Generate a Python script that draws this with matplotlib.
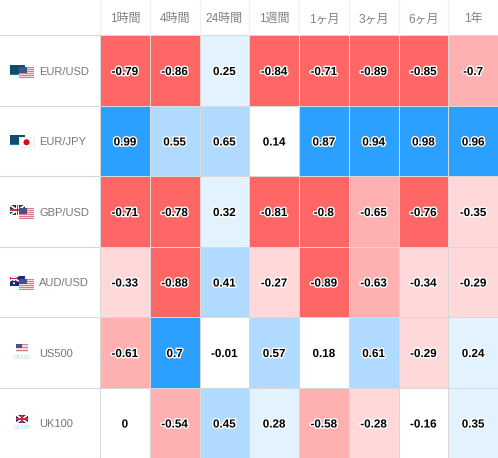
import numpy as np
import matplotlib
matplotlib.use('Agg')
import matplotlib.pyplot as plt
import matplotlib.patheffects as pe
from matplotlib.colors import ListedColormap, BoundaryNorm
from matplotlib.patches import Rectangle, Circle

plt.rcParams['font.family'] = ['Liberation Sans', 'Noto Sans CJK JP', 'DejaVu Sans']

periods = ['1時間', '4時間', '24時間', '1週間', '1ヶ月', '3ヶ月', '6ヶ月', '1年']
symbols = ['EUR/USD', 'EUR/JPY', 'GBP/USD', 'AUD/USD', 'US500', 'UK100']

eur_usd = [-0.79, -0.86, 0.25, -0.84, -0.71, -0.89, -0.85, -0.7]
eur_jpy = [0.99, 0.55, 0.65, 0.14, 0.87, 0.94, 0.98, 0.96]
gbp_usd = [-0.71, -0.78, 0.32, -0.81, -0.8, -0.65, -0.76, -0.35]
aud_usd = [-0.33, -0.88, 0.41, -0.27, -0.89, -0.63, -0.34, -0.29]
us500 = [-0.61, 0.7, -0.01, 0.57, 0.18, 0.61, -0.29, 0.24]
uk100 = [0, -0.54, 0.45, 0.28, -0.58, -0.28, -0.16, 0.35]

W, H = 498, 458
HEADER = 35
LEFT = 100

vals = np.array([eur_usd, eur_jpy, gbp_usd, aud_usd, us500, uk100])
n_rows, n_cols = vals.shape

cmap = ListedColormap(['#FF6666', '#FFB0B0', '#FFD9D9', '#FFFFFF', '#E3F2FF', '#B0DAFF', '#2CA0FF'])
norm = BoundaryNorm([-1, -0.705, -0.4, -0.2, 0.2, 0.4, 0.695, 1], cmap.N)

fig = plt.figure(figsize=(W / 100, H / 100), dpi=100, facecolor='white')

# heatmap
ax = fig.add_axes([LEFT / W, 0, (W - LEFT) / W, (H - HEADER) / H])
ax.pcolormesh(np.arange(n_cols + 1), np.arange(n_rows + 1), vals, cmap=cmap, norm=norm,
              edgecolors='#D8D8D8', linewidth=0.7)
ax.set_xlim(0, n_cols)
ax.set_ylim(n_rows, 0)
ax.set_yticks([])
ax.xaxis.tick_top()
ax.set_xticks(np.arange(n_cols) + 0.5)
ax.set_xticklabels(periods, fontsize=8.6, color='#808080')
ax.tick_params(axis='x', length=0, pad=7)
for s in ax.spines.values():
    s.set_visible(False)

for i in range(n_rows):
    for j in range(n_cols):
        t = ax.text(j + 0.5, i + 0.525, f'{vals[i, j]:g}', ha='center', va='center',
                    fontsize=8.4, fontweight='bold', color='black')
        t.set_path_effects([pe.withStroke(linewidth=2, foreground='white')])

# overlay in pixel coords for header lines, row lines, flags
ov = fig.add_axes([0, 0, 1, 1], facecolor='none')
ov.set_xlim(0, W)
ov.set_ylim(H, 0)
ov.axis('off')

row_h = (H - HEADER) / n_rows
col_w = (W - LEFT) / n_cols
for j in range(n_cols + 1):
    ov.plot([LEFT + j * col_w] * 2, [0, HEADER], color='#F0F0F0', lw=1)
for i in range(n_rows + 1):
    ov.plot([0, LEFT], [HEADER + i * row_h] * 2, color='#D8D8D8', lw=0.8)


def rect(x, y, w, h, c, z=3, alpha=1):
    ov.add_patch(Rectangle((x, y), w, h, facecolor=c, edgecolor='none', zorder=z, alpha=alpha))


def flag_eu(x, y):
    rect(x, y, 15, 10, '#0E4D6E')
    rect(x, y + 9, 15, 1, '#1B7BA8', 3.1)


def flag_us(x, y, w=15, h=11):
    rect(x, y, w, h, '#F6DADC', 4)
    for k in range(6):
        rect(x, y + k * h / 5.5, w, h / 11, '#DE7C83', 4.1)
    rect(x, y, w * 0.5, h * 0.5, '#4A4F85', 4.2)


def flag_jp(x, y):
    rect(x, y, 15, 10, '#FFFFFF', 4)
    ov.add_patch(Rectangle((x, y), 15, 10, facecolor='none', edgecolor='#E4E4E4', lw=0.5, zorder=4.1))
    ov.add_patch(Circle((x + 7.5, y + 5), 3, facecolor='#E60012', edgecolor='none', zorder=4.2))


def flag_uk(x, y, w=15, h=9, z=3):
    rect(x, y, w, h, '#1F2F6E', z)
    ov.plot([x, x + w], [y, y + h], color='white', lw=1.3, zorder=z + 0.1)
    ov.plot([x, x + w], [y + h, y], color='white', lw=1.3, zorder=z + 0.1)
    rect(x, y + h * 0.35, w, h * 0.3, '#FFFFFF', z + 0.2)
    rect(x + w * 0.4, y, w * 0.2, h, '#FFFFFF', z + 0.2)
    rect(x, y + h * 0.42, w, h * 0.16, '#D7263D', z + 0.3)
    rect(x + w * 0.45, y, w * 0.1, h, '#D7263D', z + 0.3)


def flag_au(x, y):
    rect(x, y, 15, 10, '#1A2A80')
    flag_uk(x, y, 8, 5, 3.2)
    ov.add_patch(Circle((x + 4, y + 7.5), 1, facecolor='white', edgecolor='none', zorder=3.5))
    ov.add_patch(Circle((x + 11.5, y + 4), 0.8, facecolor='white', edgecolor='none', zorder=3.5))


for i, name in enumerate(symbols):
    c = HEADER + (i + 0.5) * row_h
    ov.text(39, c + 1.5, name, ha='left', va='center', fontsize=8, color='#777777')
    if name == 'EUR/USD':
        flag_eu(10, c - 5.5)
        flag_us(19, c - 3)
    elif name == 'EUR/JPY':
        flag_eu(10, c - 6)
        flag_jp(19, c - 3.5)
    elif name == 'GBP/USD':
        flag_uk(10, c - 6, 15, 10)
        flag_us(19, c - 3)
    elif name == 'AUD/USD':
        flag_au(10, c - 6)
        flag_us(19, c - 3)
    elif name == 'US500':
        flag_us(16, c - 8, 12, 8)
        ov.text(22, c + 5, name, ha='center', va='center', fontsize=4, color='#9ADCF5')
    elif name == 'UK100':
        flag_uk(16, c - 8, 12, 8.5)
        ov.text(22, c + 5, name, ha='center', va='center', fontsize=4, color='#9ADCF5')

fig.savefig('out.png', dpi=100)
